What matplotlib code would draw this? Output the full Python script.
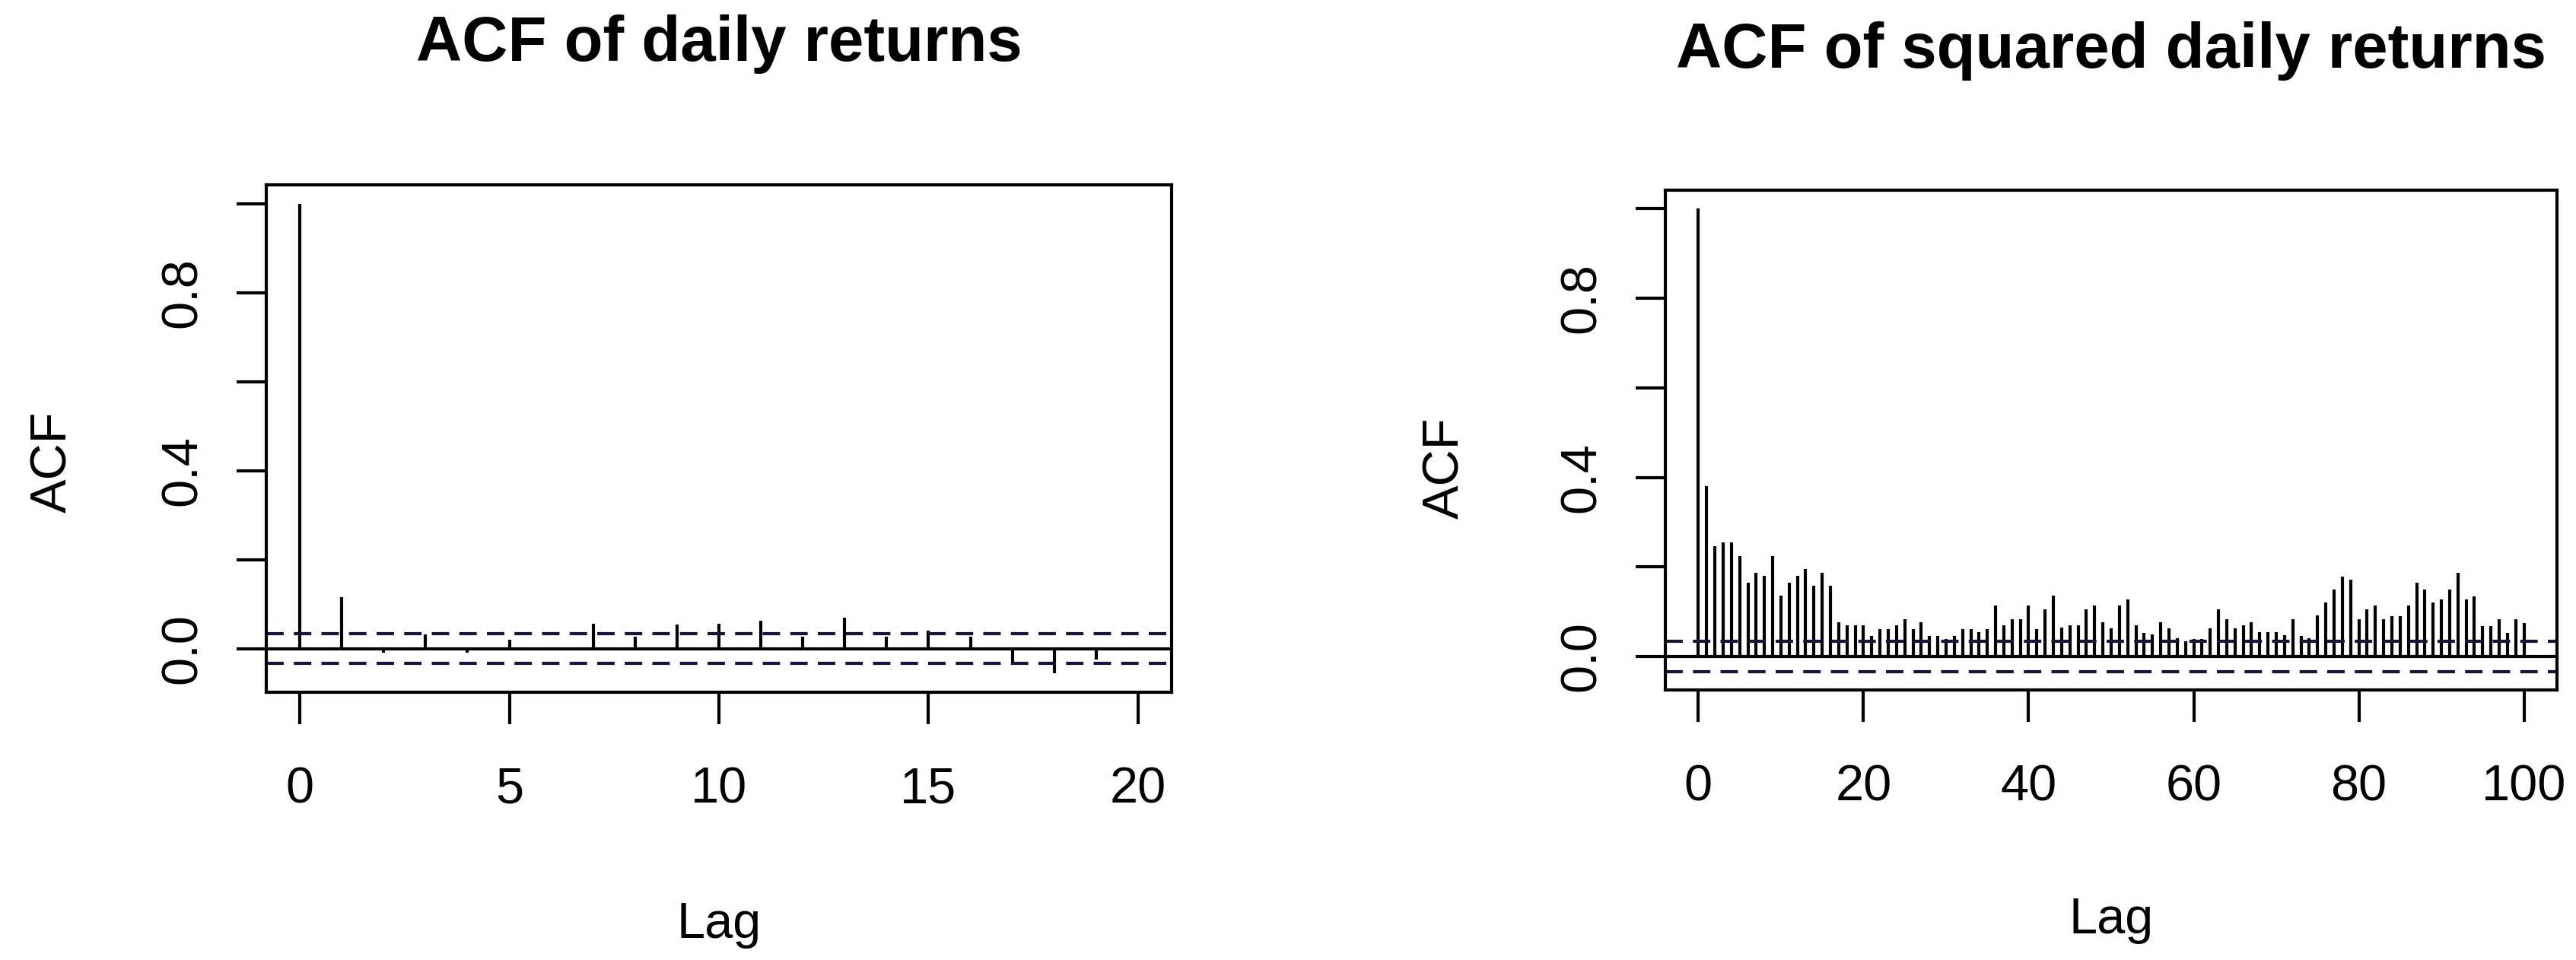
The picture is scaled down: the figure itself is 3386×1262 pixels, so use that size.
import numpy as np
import matplotlib
matplotlib.use("Agg")
import matplotlib.pyplot as plt
import matplotlib.transforms as mtransforms

plt.rcParams['font.family'] = ['Liberation Sans', 'DejaVu Sans']

lags_ret = list(range(0, 21))
acf_ret = [1.0, 0.116, -0.010, 0.031, -0.010, 0.019, 0.002, 0.056, 0.027, 0.054,
           0.056, 0.063, 0.027, 0.070, 0.027, 0.040, 0.027, -0.032, -0.056, -0.025,
           0.002]

lags_sq = list(range(0, 101))
acf_sq = [1.0, 0.380, 0.246, 0.254, 0.254, 0.224, 0.165, 0.187, 0.180, 0.224,
          0.135, 0.165, 0.180, 0.195, 0.158, 0.187, 0.158, 0.076, 0.069, 0.069,
          0.069, 0.046, 0.061, 0.061, 0.069, 0.084, 0.061, 0.076, 0.046, 0.046,
          0.039, 0.046, 0.061, 0.061, 0.054, 0.061, 0.113, 0.069, 0.084, 0.084,
          0.113, 0.061, 0.106, 0.135, 0.065, 0.069, 0.069, 0.106, 0.113, 0.076,
          0.062, 0.113, 0.128, 0.069, 0.052, 0.050, 0.076, 0.062, 0.040, 0.034,
          0.039, 0.039, 0.062, 0.106, 0.084, 0.062, 0.069, 0.076, 0.054, 0.054,
          0.055, 0.048, 0.084, 0.046, 0.040, 0.091, 0.121, 0.150, 0.179, 0.172,
          0.084, 0.106, 0.113, 0.084, 0.090, 0.090, 0.113, 0.164, 0.149, 0.120,
          0.127, 0.149, 0.186, 0.127, 0.134, 0.068, 0.068, 0.083, 0.053, 0.083,
          0.075]

# 95% band, 1.96/sqrt(n)
ci = 0.0335

titles = ["ACF of daily returns", "ACF of squared daily returns"]
xticks_ret = [0, 5, 10, 15, 20]
xticks_sq = [0, 20, 40, 60, 80, 100]
yticks = [0.0, 0.2, 0.4, 0.6, 0.8, 1.0]
yticklabels = ["0.0", "", "0.4", "", "0.8", ""]

W, H = 3387, 1262
fig = plt.figure(figsize=(W / 100, H / 100), dpi=100)

# axes boxes in pixels (left, right, top, bottom)
boxes = [(350, 1540, 243, 910), (2189, 3361, 250, 907)]
title_base = [80, 89]
lag_base = [1233, 1227]
ylab_x = [70, 1900]

panels = [(lags_ret, acf_ret, xticks_ret), (lags_sq, acf_sq, xticks_sq)]

lw = 3.0
fs = 48

for i, (lags, acf, xt) in enumerate(panels):
    l, r, t, b = boxes[i]
    ax = fig.add_axes([l / W, 1 - b / H, (r - l) / W, (b - t) / H])

    ax.vlines(lags, 0, acf, color='black', linewidth=lw)
    ax.axhline(0, color='black', linewidth=lw)
    for c in (ci, -ci):
        ax.axhline(c, color='#15153a', linewidth=lw, linestyle=(0, (5.5, 3.2)))

    # R style limits: 4% padding on the data range
    xr = max(lags) - min(lags)
    ax.set_xlim(min(lags) - 0.04 * xr, max(lags) + 0.04 * xr)
    ymin = min(min(acf), -ci)
    ymax = max(max(acf), ci)
    yr = ymax - ymin
    ax.set_ylim(ymin - 0.04 * yr, ymax + 0.04 * yr)

    ax.set_xticks(xt)
    ax.set_xticklabels([str(v) for v in xt])
    ax.set_yticks(yticks)
    ax.set_yticklabels(yticklabels, rotation=90, va='center')

    ax.tick_params(axis='x', direction='out', length=30, width=lw, pad=40, labelsize=fs)
    ax.tick_params(axis='y', direction='out', length=28, width=lw, pad=28, labelsize=fs)
    for sp in ax.spines.values():
        sp.set_linewidth(lw)

    cx = (l + r) / 2 / W
    fig.text(cx, 1 - title_base[i] / H, titles[i], ha='center', va='baseline',
             fontsize=60, fontweight='bold')
    fig.text(cx, 1 - lag_base[i] / H, "Lag", ha='center', va='baseline', fontsize=fs)

    trans = mtransforms.blended_transform_factory(fig.transFigure, ax.transData)
    ax.text(ylab_x[i] / W, 0.42, "ACF", transform=trans, rotation=90,
            ha='center', va='center', fontsize=fs)

plt.savefig("out.png", dpi=100)
